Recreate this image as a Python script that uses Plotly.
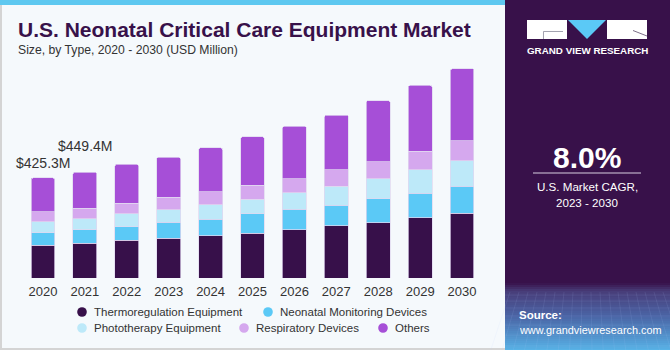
import plotly.graph_objects as go

years = ["2020", "2021", "2022", "2023", "2024", "2025", "2026", "2027", "2028", "2029", "2030"]
thermoregulation = [139, 147.5, 160, 169, 178.5, 191, 205, 221, 235, 255, 274.5]
monitoring = [53.6, 58, 58, 68, 71, 81, 86, 89, 101, 105, 115]
phototherapy = [45.4, 47, 54, 52, 62, 62, 72, 79, 86, 99, 109]
respiratory = [44, 44, 45.5, 54, 55, 61, 59.5, 71, 72, 79, 85]
others = [143.3, 152.9, 165.5, 170, 186, 204, 221.5, 232, 259, 280, 305]
series_names = ["Thermoregulation Equipment", "Neonatal Monitoring Devices",
                "Phototherapy Equipment", "Respiratory Devices", "Others"]
series_values = [thermoregulation, monitoring, phototherapy, respiratory, others]
colors = ["#37104a", "#5bc9f6", "#bde9f9", "#d5a8ee", "#a64fd7"]
label_years = ["2020", "2021"]
label_texts = ["$425.3M", "$449.4M"]

W, H = 670, 350
L, R, T, B = 22, 187, 60, 72
PW, PH = W - L - R, H - T - B


def px(x):
    return (x - L) / PW


def py(y):
    return (H - B - y) / PH


fig = go.Figure()
for name, vals, col in zip(series_names, series_values, colors):
    fig.add_trace(go.Bar(
        x=years, y=vals, name=name,
        marker=dict(color=col, line=dict(color="rgba(225,215,240,0.9)", width=0.8)),
        showlegend=False, hoverinfo="skip"))

totals = [sum(v) for v in zip(*series_values)]
shifts = [5, 16]
for yr, txt, sh in zip(label_years, label_texts, shifts):
    idx = years.index(yr)
    fig.add_annotation(x=idx, y=totals[idx], xref="x", yref="y", text=txt, showarrow=False,
                       yanchor="bottom", yshift=sh,
                       font=dict(size=14, color="#333333", family="Liberation Sans"))

shapes = []
# top stripe
shapes.append(dict(type="rect", xref="paper", yref="paper", x0=px(0), x1=px(505), y0=py(5), y1=py(0),
                   fillcolor="#5ec8f0", line=dict(width=0), layer="below"))
# left border
shapes.append(dict(type="rect", xref="paper", yref="paper", x0=px(0), x1=px(2), y0=py(350), y1=py(5),
                   fillcolor="#d4d4d4", line=dict(width=0), layer="below"))
# bottom border
shapes.append(dict(type="rect", xref="paper", yref="paper", x0=px(0), x1=px(505), y0=py(350), y1=py(348),
                   fillcolor="#d4d4d4", line=dict(width=0), layer="below"))
# right panel
shapes.append(dict(type="rect", xref="paper", yref="paper", x0=px(505), x1=px(670), y0=py(350), y1=py(0),
                   fillcolor="#38114a", line=dict(width=0), layer="below"))


def lerp(c1, c2, t):
    return "rgb(%d,%d,%d)" % tuple(round(a + (b - a) * t) for a, b in zip(c1, c2))


stops = [(283, (58, 22, 80)), (290, (72, 60, 120)), (315, (74, 100, 165)), (350, (88, 180, 232))]
y = 283
while y < 350:
    c = None
    for (ya, ca), (yb, cb) in zip(stops[:-1], stops[1:]):
        if ya <= y < yb:
            c = lerp(ca, cb, (y - ya) / (yb - ya))
    shapes.append(dict(type="rect", xref="paper", yref="paper", x0=px(505), x1=px(670), y0=py(y + 2), y1=py(y),
                       fillcolor=c, line=dict(width=0), layer="below"))
    y += 2
for gx in range(510, 670, 9):
    shapes.append(dict(type="line", xref="paper", yref="paper", x0=px(gx), x1=px(gx + (gx - 587) * 0.25),
                       y0=py(292), y1=py(350), line=dict(color="rgba(190,210,255,0.15)", width=0.7)))
for gy in [295, 301, 308, 316, 325, 335, 346]:
    shapes.append(dict(type="line", xref="paper", yref="paper", x0=px(505), x1=px(670),
                       y0=py(gy), y1=py(gy), line=dict(color="rgba(190,210,255,0.15)", width=0.7)))

# logo
shapes.append(dict(type="rect", xref="paper", yref="paper", x0=px(527), x1=px(567), y0=py(39), y1=py(20),
                   fillcolor="white", line=dict(width=0)))
shapes.append(dict(type="path", xref="paper", yref="paper",
                   path="M %f %f L %f %f L %f %f Z" % (px(568), py(20), px(606), py(20), px(587), py(39)),
                   fillcolor="#5bc9f6", line=dict(width=0)))
shapes.append(dict(type="rect", xref="paper", yref="paper", x0=px(607), x1=px(647), y0=py(39), y1=py(20),
                   fillcolor="white", line=dict(width=0)))
shapes.append(dict(type="path", xref="paper", yref="paper",
                   path="M %f %f L %f %f M %f %f L %f %f" % (px(543.5), py(39), px(543.5), py(31.5),
                                                             px(543.5), py(31.5), px(563), py(31.5)),
                   line=dict(color="#8a8a9a", width=0.8)))
shapes.append(dict(type="line", xref="paper", yref="paper", x0=px(633), x1=px(647), y0=py(30.5), y1=py(36),
                   line=dict(color="#5a4a6a", width=0.8)))
# divider in panel
shapes.append(dict(type="line", xref="paper", yref="paper", x0=px(533), x1=px(641), y0=py(173), y1=py(173),
                   line=dict(color="#d8d0e0", width=1.2)))


def ann(x, y, text, size, color, bold=False, xanchor="center"):
    fig.add_annotation(x=px(x), y=py(y), xref="paper", yref="paper",
                       text=("<b>%s</b>" % text) if bold else text,
                       showarrow=False, xanchor=xanchor, yanchor="middle",
                       font=dict(size=size, color=color, family="Liberation Sans"))


# legend (manual, flowing like the reference)
legend_pos = [(82, 312), (268, 312), (82, 328), (244, 328), (383, 328)]
for (lx, ly), name, col in zip(legend_pos, series_names, colors):
    shapes.append(dict(type="circle", xref="paper", yref="paper", x0=px(lx - 4.8), x1=px(lx + 4.8),
                       y0=py(ly + 4.8), y1=py(ly - 4.8), fillcolor=col, line=dict(width=0)))
    ann(lx + 10, ly, name, 11.5, "#333333", xanchor="left")

ann(16, 29, "U.S. Neonatal Critical Care Equipment Market", 21, "#38114a", bold=True, xanchor="left")
ann(16, 50, "Size, by Type, 2020 - 2030 (USD Million)", 12.2, "#333333", xanchor="left")
ann(587, 51, "GRAND VIEW RESEARCH", 9.8, "white", bold=True)
ann(587, 157, "8.0%", 30, "white", bold=True)
ann(587, 186, "U.S. Market CAGR,", 11.6, "white")
ann(587, 202, "2023 - 2030", 11.6, "white")
ann(517, 315, "Source:", 11.5, "white", bold=True, xanchor="left")
ann(517, 330, "www.grandviewresearch.com", 10.9, "white", xanchor="left")

fig.update_layout(
    width=W, height=H, margin=dict(l=L, r=R, t=T, b=B),
    paper_bgcolor="#f5f9fc", plot_bgcolor="rgba(0,0,0,0)",
    barmode="stack", bargap=0.43, barcornerradius=2,
    shapes=shapes, showlegend=False,
    font=dict(family="Liberation Sans", color="#333333"),
    xaxis=dict(type="category", showgrid=False, showline=False, ticks="", ticklabelstandoff=4,
               tickfont=dict(size=13, color="#333333"), range=[-0.5, 10.5], fixedrange=True),
    yaxis=dict(visible=False, range=[0, 926], fixedrange=True),
)

fig.write_html("out.html")
